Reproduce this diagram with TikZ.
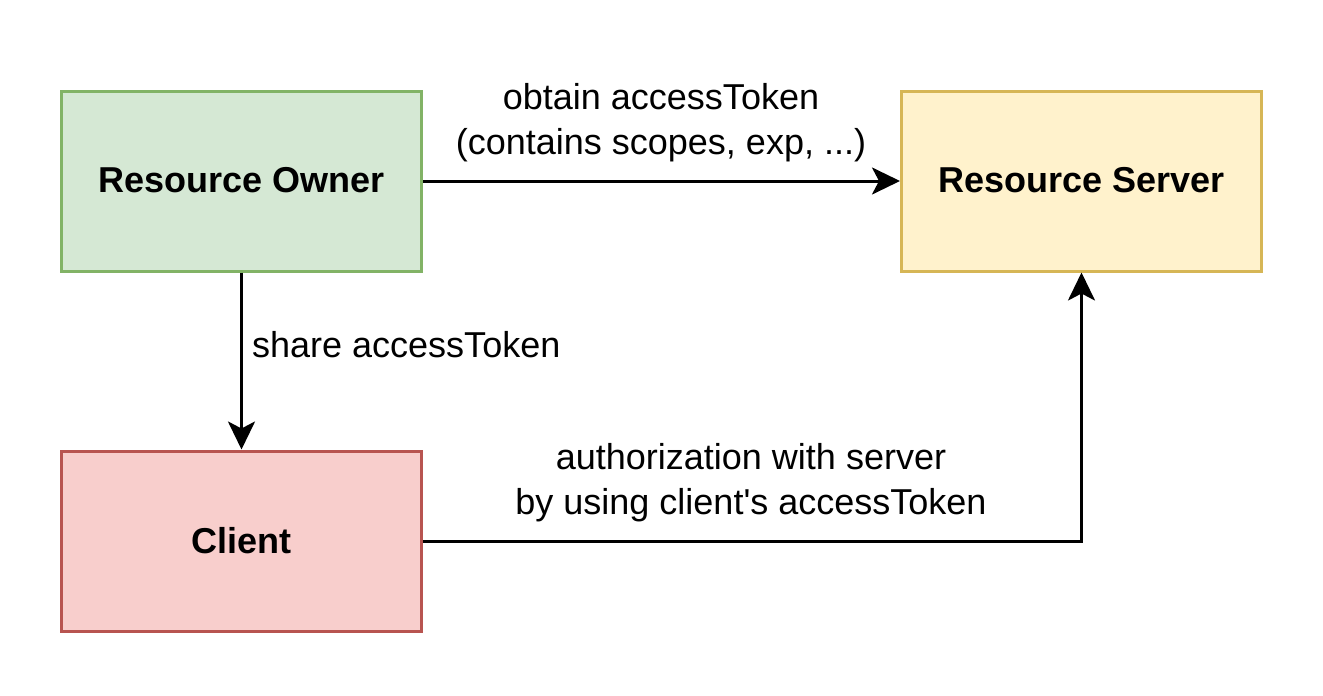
\documentclass[tikz,border=0pt]{standalone}
\usepackage{fontspec}
\setmainfont{Liberation Sans}
\usetikzlibrary{arrows.meta}
\definecolor{gfill}{HTML}{D5E8D4}\definecolor{gdraw}{HTML}{82B366}
\definecolor{yfill}{HTML}{FFF2CC}\definecolor{ydraw}{HTML}{D6B656}
\definecolor{rfill}{HTML}{F8CECC}\definecolor{rdraw}{HTML}{B85450}
\begin{document}
\begin{tikzpicture}[x=1pt,y=-1pt,
  box/.style={draw, line width=3pt, minimum width=360pt, minimum height=180pt, inner sep=0pt, font=\fontsize{36}{45}\selectfont\bfseries},
  lbl/.style={font=\fontsize{36}{45}\selectfont, align=center, inner sep=0pt},
  conn/.style={line width=3pt, -{Stealth[length=28pt,width=27pt,inset=7pt]}}]
\useasboundingbox (0,0) rectangle (1323,696);
\node[box, fill=gfill, draw=gdraw] (ro) at (241.5,181) {\raisebox{2pt}{Resource Owner}};
\node[box, fill=yfill, draw=ydraw] (rs) at (1081.5,181) {\raisebox{2pt}{Resource Server}};
\node[box, fill=rfill, draw=rdraw] (cl) at (241.5,541) {\raisebox{2pt}{Client}};
\draw[conn] (ro.east) -- (rs.west);
\draw[conn] (ro.south) -- (cl.north);
\draw[conn] (cl.east) -| (rs.south);
\node[lbl] (l1) at (661,123) {obtain accessToken\\(contains scopes, exp, ...)};
\node[lbl, anchor=west] (l2) at (252,345) {share accessToken};
\node[lbl] (l3) at (751,483) {authorization with server\\by using client\textquotesingle s accessToken};
\end{tikzpicture}
\end{document}
